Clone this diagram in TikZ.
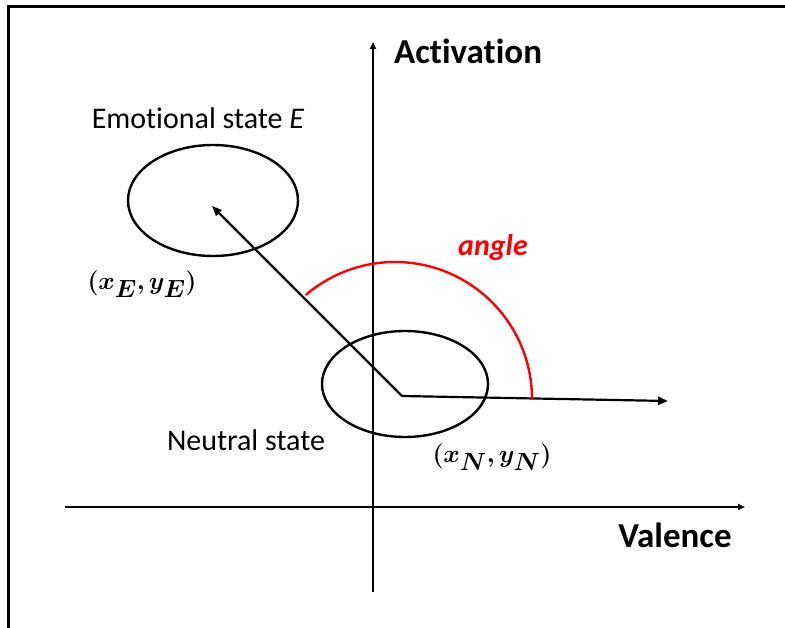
\documentclass[tikz,border=0pt]{standalone}
\usepackage{fontspec}
\usepackage{bm}
\setmainfont{Carlito}[Ligatures=NoCommon]
\usetikzlibrary{arrows.meta,shapes.geometric}
\tikzset{
  axisline/.style={line width=2pt,-{Triangle[length=7pt,width=6pt]}},
  vecline/.style={line width=2.2pt,-{Triangle[length=10pt,width=8pt]}},
  stateell/.style={draw,ellipse,line width=2.4pt,inner sep=0pt},
  lbl/.style={font=\fontsize{30}{36}\selectfont,inner sep=0pt},
  axlbl/.style={font=\fontsize{35}{42}\selectfont\bfseries,inner sep=0pt},
  coordlbl/.style={font=\fontsize{34}{40}\selectfont,inner sep=0pt},
}
\begin{document}
\begin{tikzpicture}[x=1pt,y=-1pt]
\useasboundingbox (0,0) rectangle (785,628);
% frame
\draw[line width=3pt] (8.5,628) -- (8.5,7) -- (785,7);
% axes
\coordinate (vb) at (373,592);
\coordinate (vt) at (373,42);
\coordinate (hl) at (65,507);
\coordinate (hr) at (745,507);
\draw[axisline] (vb) -- (vt);
\draw[axisline] (hl) -- (hr);
\node[axlbl] (act) at (468,51) {Activation};
\node[axlbl] (val) at (675,535) {Valence};
% ellipses
\node[stateell,minimum width=170pt,minimum height=111pt] (E) at (213,200.5) {};
\node[stateell,minimum width=166pt,minimum height=106pt] (N) at (405,384) {};
% vectors
\coordinate (O) at (402,396);
\coordinate (Etip) at (212,206);
\coordinate (Rtip) at (668,401);
\draw[vecline] (O) -- (Etip);
\draw[vecline] (O) -- (Rtip);
% angle arc
\coordinate (arcstart) at (532,399);
\draw[red,line width=2.4pt] (arcstart) arc[start angle=0,end angle=-130.6,radius=137];
\node[lbl,text=red,font=\fontsize{30}{36}\selectfont\bfseries\itshape] (ang) at (493,248) {angle};
% labels
\node[lbl] (Elbl) at (198,118) {Emotional state \textit{E}};
\node[lbl] (Nlbl) at (246,440) {Neutral state};
\node[coordlbl] (Ec) at (142,284) {$\bm{(x_E, y_E)}$};
\node[coordlbl] (Nc) at (492,457) {$\bm{(x_N, y_N)}$};
\end{tikzpicture}
\end{document}
